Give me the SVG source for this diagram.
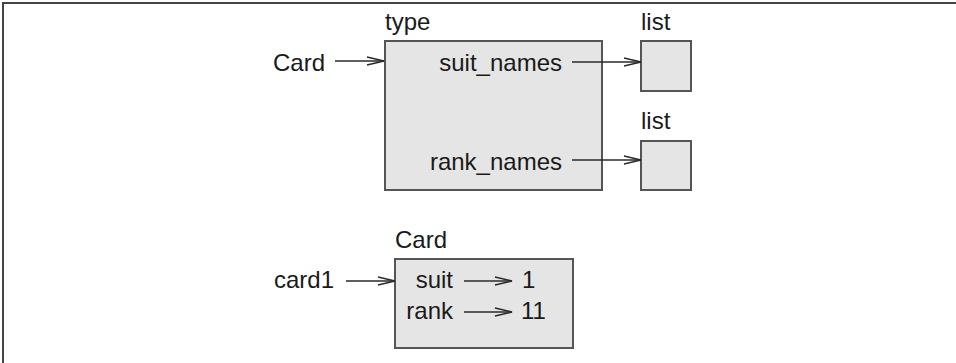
<svg xmlns="http://www.w3.org/2000/svg" width="956" height="363" viewBox="0 0 956 363">
<defs>
<marker id="ah" markerUnits="userSpaceOnUse" markerWidth="20" markerHeight="12" refX="18" refY="5" orient="auto">
<path d="M1,1 L18,5 L1,9" fill="none" stroke="#2a2a2a" stroke-width="1.4"/>
</marker>
<style>
text{font-family:"Liberation Sans",Arial,sans-serif;font-size:24px;fill:#1a1a1a}
.box{fill:#e5e5e5;stroke:#555;stroke-width:2}
.c line{stroke:#2a2a2a;stroke-width:1.4;marker-end:url(#ah)}
.frame{stroke:#444;stroke-width:2;fill:none}
</style>
</defs>
<rect width="956" height="363" fill="#fff"/>
<path class="frame" d="M3,363 V3 H956"/>
<g id="type-node">
<rect class="box" x="385" y="41" width="217" height="149"/>
<text x="385" y="30">type</text>
<text x="562" y="71" text-anchor="end">suit_names</text>
<text x="562" y="170" text-anchor="end">rank_names</text>
</g>
<g id="card-var"><text x="273" y="71">Card</text></g>
<g id="list1">
<rect class="box" x="641" y="41" width="50" height="50"/>
<text x="641" y="30">list</text>
</g>
<g id="list2">
<rect class="box" x="641" y="141" width="50" height="49"/>
<text x="641" y="129">list</text>
</g>
<g id="card1-var"><text x="274" y="288">card1</text></g>
<g id="card-obj">
<rect class="box" x="395" y="259" width="178" height="89"/>
<text x="395" y="248">Card</text>
<text x="453" y="288" text-anchor="end">suit</text>
<text x="453" y="319" text-anchor="end">rank</text>
</g>
<g id="v1"><text x="522" y="288">1</text></g>
<g id="v11"><text x="521" y="319">11</text></g>
<g class="c" id="connectors">
<line x1="335" y1="61" x2="384" y2="61"/>
<line x1="572" y1="62" x2="641" y2="62"/>
<line x1="572" y1="160" x2="641" y2="160"/>
<line x1="346" y1="281" x2="395" y2="281"/>
<line x1="464" y1="281" x2="512" y2="281"/>
<line x1="464" y1="312" x2="512" y2="312"/>
</g>
</svg>
